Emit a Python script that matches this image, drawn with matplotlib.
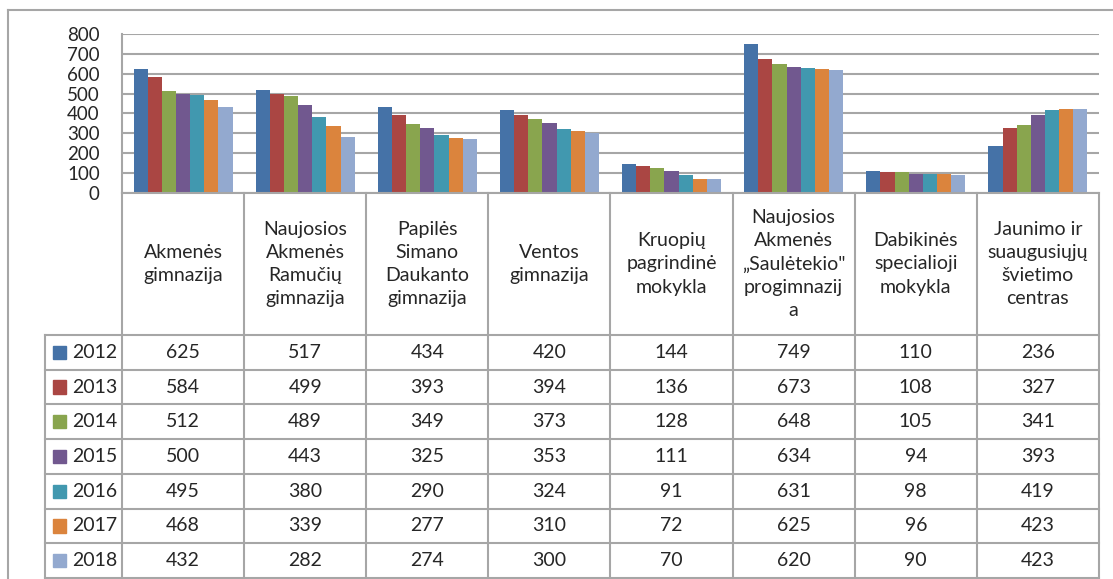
import numpy as np
import matplotlib
matplotlib.use('Agg')
import matplotlib.pyplot as plt
from matplotlib.lines import Line2D
from matplotlib.patches import Rectangle

plt.rcParams['font.family'] = ['Lato', 'DejaVu Sans']

# Data
schools = ['Akmenės\ngimnazija',
           'Naujosios\nAkmenės\nRamučių\ngimnazija',
           'Papilės\nSimano\nDaukanto\ngimnazija',
           'Ventos\ngimnazija',
           'Kruopių\npagrindinė\nmokykla',
           'Naujosios\nAkmenės\n„Saulėtekio"\nprogimnazij\na',
           'Dabikinės\nspecialioji\nmokykla',
           'Jaunimo ir\nsuaugusiųjų\nšvietimo\ncentras']
years = ['2012', '2013', '2014', '2015', '2016', '2017', '2018']
v2012 = [625, 517, 434, 420, 144, 749, 110, 236]
v2013 = [584, 499, 393, 394, 136, 673, 108, 327]
v2014 = [512, 489, 349, 373, 128, 648, 105, 341]
v2015 = [500, 443, 325, 353, 111, 634, 94, 393]
v2016 = [495, 380, 290, 324, 91, 631, 98, 419]
v2017 = [468, 339, 277, 310, 72, 625, 96, 423]
v2018 = [432, 282, 274, 300, 70, 620, 90, 423]
values = [v2012, v2013, v2014, v2015, v2016, v2017, v2018]
colors = ['#4572A7', '#AA4643', '#89A54E', '#71588F', '#4198AF', '#DB843D', '#93A9CF']

W, H = 1113, 579
fig = plt.figure(figsize=(W / 100, H / 100), dpi=100)
grid_c = '#A6A6A6'
txt_c = '#262626'

# pixel layout
x_tab0, x_plot0, x_plot1 = 45, 122, 1099
y_top, y_axis, y_head, y_bot = 34, 193, 335, 578

def fx(px):
    return px / W

def fy(py):
    return 1 - py / H

#------------------------------------------------------------------------------
#        Bars
#------------------------------------------------------------------------------
ax = fig.add_axes([fx(x_plot0), fy(y_axis), fx(x_plot1 - x_plot0),
                   fy(y_top) - fy(y_axis)])
n = len(schools)
k = len(years)
bw = 0.1157
idx = np.arange(n) + 0.5
for j, (yr, vals) in enumerate(zip(years, values)):
    ax.bar(idx + (j - (k - 1) / 2) * bw, vals, width=bw, color=colors[j],
           edgecolor='none', zorder=3)
ax.set_xlim(0, n)
ax.set_ylim(0, 800)
ax.set_yticks(np.arange(0, 801, 100))
ax.tick_params(axis='y', length=0, pad=16, labelsize=13.5, labelcolor=txt_c)
ax.tick_params(axis='x', length=0, labelbottom=False)
ax.grid(axis='y', color=grid_c, lw=1.5, zorder=0)
for s in ['top', 'right', 'bottom']:
    ax.spines[s].set_visible(False)
ax.spines['left'].set_color(grid_c)
ax.spines['left'].set_linewidth(1.5)
ax.set_facecolor('none')

#------------------------------------------------------------------------------
#        Data table
#------------------------------------------------------------------------------
col_w = (x_plot1 - x_plot0) / n
leg_w = (x_plot0 - x_tab0) / col_w
row_h = (y_bot - y_head) / k
head_h = (y_head - y_axis) / row_h
tb = fig.add_axes([fx(x_tab0), fy(y_bot), fx(x_plot1 - x_tab0),
                   fy(y_axis) - fy(y_bot)])
tb.set_xlim(-leg_w, n)
tb.set_ylim(k, -head_h)
tb.axis('off')

lk = dict(color=grid_c, lw=1.5, clip_on=False)
tb.plot([0, n], [-head_h, -head_h], **lk)
for r in range(k + 1):
    tb.plot([-leg_w, n], [r, r], **lk)
for c in range(n + 1):
    tb.plot([c, c], [-head_h, k], **lk)
tb.plot([-leg_w, -leg_w], [0, k], **lk)

for c, name in enumerate(schools):
    tb.text(c + 0.5, -head_h / 2, name, ha='center', va='center',
            fontsize=14, color=txt_c, linespacing=1.45)
for r, (yr, vals) in enumerate(zip(years, values)):
    sq = 13 / col_w
    tb.add_patch(Rectangle((-leg_w + 8 / col_w, r + 0.5 - 0.19), sq, 0.38,
                           color=colors[r], clip_on=False))
    tb.text(-leg_w + 27 / col_w, r + 0.5, yr, ha='left', va='center',
            fontsize=14, color=txt_c)
    for c, v in enumerate(vals):
        tb.text(c + 0.5, r + 0.5, str(v), ha='center', va='center',
                fontsize=14, color=txt_c)

# outer chart frame
fig.add_artist(Line2D([fx(8), fx(8)], [fy(10), 0], color=grid_c, lw=1.5))
fig.add_artist(Line2D([fx(8), 1], [fy(10), fy(10)], color=grid_c, lw=1.5))

fig.savefig('out.png', dpi=100)
